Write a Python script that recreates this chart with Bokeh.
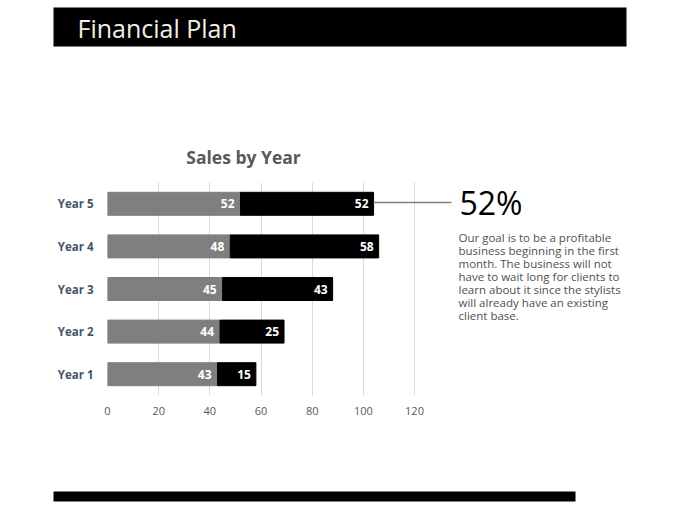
from bokeh.plotting import figure
from bokeh.models import ColumnDataSource, Range1d, FixedTicker
from bokeh.layouts import column, row
from bokeh.embed import file_html
from bokeh.resources import INLINE
from bokeh.core.properties import value

# ---- data ----
years = ["Year 1", "Year 2", "Year 3", "Year 4", "Year 5"]
series_a = [43, 44, 45, 48, 52]
series_b = [15, 25, 43, 58, 52]
x_ticks = [0, 20, 40, 60, 80, 100, 120]
page_title = "Financial Plan"
chart_title = "Sales by Year"
headline = "52%"
paragraph = [
    "Our goal is to be a profitable",
    "business beginning in the first",
    "month. The business will not",
    "have to wait long for clients to",
    "learn about it since the stylists",
    "will already have an existing",
    "client base.",
]

FONT = "Open Sans"
MID = 0.388          # em offset from baseline to text middle
W = 672
HEAD_H, TITLE_H, MID_H, FOOT_H = 60, 122, 248, 72
FL, FR120, FB = 107, 414, 213   # frame left, x of tick 120, frame bottom (chart fig)
X_END = max(x_ticks) * (W - FL) / (FR120 - FL)


def canvas(y0, h):
    f = figure(width=W, height=h, output_backend="svg", toolbar_location=None,
               x_range=Range1d(0, W), y_range=Range1d(y0 + h, y0),
               x_axis_type=None, y_axis_type=None, min_border=0)
    f.outline_line_color = None
    f.grid.grid_line_color = None
    f.background_fill_color = "white"
    f.border_fill_color = "white"
    return f


def txt(f, x, base, s, size, color, style="normal", align="left"):
    f.text(x=[x], y=[base - MID * size], text=[s], text_font=value(FONT),
           text_font_size=f"{size}px", text_font_style=style, text_color=color,
           text_align=align, text_baseline="middle")


# ---- header strip ----
head = canvas(0, HEAD_H)
head.quad(left=[53], right=[626], top=[7], bottom=[46], fill_color="black", line_color=None)
txt(head, 77, 37, page_title, 25, "#F2F0E6")

# ---- chart title strip ----
tstrip = canvas(HEAD_H, TITLE_H)
txt(tstrip, 243, 163.3, chart_title, 17.5, "#595959", style="bold", align="center")

# ---- chart ----
y_pos = [i + 1 for i in range(len(years))]
end_a = list(series_a)
end_b = [a + b for a, b in zip(series_a, series_b)]
src = ColumnDataSource(dict(y=y_pos, a=series_a, b=series_b, end_a=end_a, end_b=end_b,
                            la=[str(v) for v in series_a], lb=[str(v) for v in series_b]))

p = figure(width=W, height=MID_H, output_backend="svg", toolbar_location=None,
           y_range=Range1d(0.5, len(years) + 0.5), x_range=Range1d(0, X_END),
           min_border_left=FL, min_border_right=0, min_border_top=0,
           min_border_bottom=MID_H - FB)
p.outline_line_color = None
p.background_fill_color = "white"
p.border_fill_color = "white"

p.hbar_stack(["a", "b"], y="y", height=0.54, color=["#7F7F7F", "#000000"], source=src)

p.text(x="end_a", y="y", text="la", source=src, text_align="right", text_baseline="middle",
       x_offset=-6, text_color="white", text_font=value(FONT), text_font_size="12px",
       text_font_style="bold")
p.text(x="end_b", y="y", text="lb", source=src, text_align="right", text_baseline="middle",
       x_offset=-5, text_color="white", text_font=value(FONT), text_font_size="12px",
       text_font_style="bold")

p.xaxis.ticker = FixedTicker(ticks=x_ticks)
p.xgrid.ticker = FixedTicker(ticks=x_ticks)
p.yaxis.ticker = FixedTicker(ticks=y_pos)
p.yaxis.major_label_overrides = {yy: name for yy, name in zip(y_pos, years)}
p.xgrid.grid_line_color = "#D9D9D9"
p.ygrid.grid_line_color = None
for ax in (p.xaxis, p.yaxis):
    ax.axis_line_color = None
    ax.major_tick_line_color = None
    ax.minor_tick_line_color = None
    ax.major_label_text_font = FONT
p.xaxis.major_label_text_color = "#595959"
p.xaxis.major_label_text_font_size = "11px"
p.xaxis.major_label_standoff = 5
p.yaxis.major_label_text_color = "#44546A"
p.yaxis.major_label_text_font_size = "11.5px"
p.yaxis.major_label_text_font_style = "bold"
p.yaxis.major_label_standoff = 8

# page-pixel helpers for the callout, mapped through the chart's scales
PX_PER_X = (FR120 - FL) / max(x_ticks)
PX_PER_Y = FB / len(years)


def dx(px):
    return (px - FL) / PX_PER_X


def dy(py):
    return len(years) + 0.5 - (py - 182) / PX_PER_Y


# connector from the Year 5 total toward the headline
p.segment(x0=[end_b[-1]], y0=[y_pos[-1] + 0.03], x1=[dx(451)], y1=[y_pos[-1] + 0.03],
          line_color="#7F7F7F", line_width=1.5)


def ptxt(x, base, s, size, color):
    p.text(x=[dx(x)], y=[dy(base - MID * size)], text=[s], text_font=value(FONT),
           text_font_size=f"{size}px", text_color=color, text_align="left",
           text_baseline="middle")


ptxt(459, 214.5, headline, 32, "black")
for i, line in enumerate(paragraph):
    ptxt(458, 241.7 + i * 12.9, line, 11.5, "#505050")

# ---- footer strip ----
foot = canvas(HEAD_H + TITLE_H + MID_H, FOOT_H)
foot.quad(left=[53], right=[575], top=[491], bottom=[501], fill_color="black", line_color=None)

# the chart sits in its own row so the strips keep full-width frames
layout = column(head, tstrip, row(p, spacing=0), foot, spacing=0)
open("out.html", "w").write(file_html(layout, INLINE))
